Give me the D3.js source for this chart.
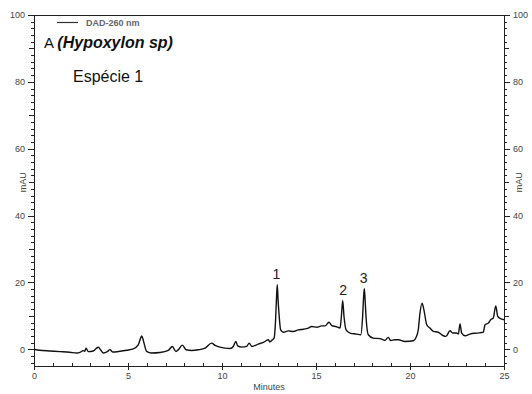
<!DOCTYPE html>
<meta charset="utf-8">
<title>DAD-260 nm chromatogram</title>
<style>

body {
  margin: 0;
  background: #fff;
}

.axis text {
  font: 9px Arial, "Liberation Sans", sans-serif;
  fill: #444;
}

.axis path,
.axis line {
  stroke: #222;
  shape-rendering: crispEdges;
}

.trace {
  fill: none;
  stroke: #111;
  stroke-width: 1.4px;
}

</style>
<svg width="532" height="394"></svg>
<script src="https://cdn.jsdelivr.net/npm/d3@7"></script>
<script>

// retention time (minutes) and absorbance (mAU)
var times = [
  0.0, 0.3, 0.85, 1.4, 1.9, 2.27, 2.45, 2.62, 2.7, 2.77, 2.89, 3.15, 3.3, 3.42, 3.56, 3.69, 3.9, 4.04, 4.18, 4.57,
  4.93, 5.28, 5.55, 5.68, 5.73, 5.8, 5.85, 5.99, 6.26, 6.7, 7.14, 7.36, 7.55, 7.68, 7.89, 8.09, 8.39, 8.74, 9.1, 9.45,
  9.63, 9.89, 10.16, 10.43, 10.6, 10.74, 10.83, 11.05, 11.31, 11.45, 11.58, 11.93, 12.2, 12.46, 12.55, 12.64, 12.77, 12.85, 12.9, 12.94,
  12.98, 13.03, 13.12, 13.26, 13.53, 13.79, 14.06, 14.32, 14.59, 14.77, 15.04, 15.3, 15.48, 15.69, 15.84, 16.06, 16.28, 16.35, 16.42, 16.49,
  16.6, 16.81, 17.16, 17.38, 17.48, 17.53, 17.57, 17.61, 17.66, 17.78, 18.05, 18.4, 18.67, 18.84, 18.97, 19.2, 19.38, 19.73, 20.18, 20.32,
  20.44, 20.53, 20.64, 20.74, 20.89, 21.06, 21.24, 21.5, 21.77, 21.91, 22.13, 22.27, 22.48, 22.57, 22.66, 22.75, 22.93, 23.19, 23.55, 23.9,
  23.99, 24.17, 24.29, 24.43, 24.56, 24.67, 24.88, 25.0
];

var mAU = [
  0.0, -0.3, -0.5, -0.7, -0.9, -1.1, -0.9, -0.4, -0.6, 0.3, -0.7, -0.5, 0.2, 0.6, -0.3, -1.1, -0.7, -0.1, -0.8, -0.6,
  -0.3, 0.1, 1.4, 3.5, 4.0, 3.0, 1.9, -0.6, -1.1, -0.95, -0.35, 0.85, -0.65, -0.1, 1.25, -0.15, -0.35, -0.15, 0.35, 1.85,
  1.15, 0.65, 0.35, 0.25, 0.85, 2.35, 1.0, 0.65, 0.85, 1.85, 0.85, 1.55, 2.05, 2.85, 2.2, 2.65, 3.35, 8.8, 15.5, 19.3,
  15.0, 10.8, 5.8, 5.1, 5.5, 5.3, 5.8, 6.0, 6.35, 6.8, 6.6, 7.0, 7.0, 8.1, 7.1, 6.8, 6.35, 9.8, 14.5, 9.8,
  5.8, 4.85, 4.55, 4.35, 9.8, 15.5, 18.1, 15.0, 9.8, 4.35, 3.35, 3.2, 2.65, 3.55, 2.65, 2.85, 2.85, 2.35, 2.55, 3.55,
  5.85, 10.8, 13.8, 11.8, 7.35, 6.35, 5.35, 5.1, 4.05, 3.85, 5.55, 4.85, 4.85, 4.55, 7.55, 4.85, 4.05, 4.55, 4.85, 5.1,
  7.35, 7.85, 8.85, 9.35, 13.0, 9.8, 9.05, 8.85
];

var peakNames = ["1", "2", "3"],
    peakTimes = [12.9, 16.45, 17.53],
    peakHeights = [19.3, 14.5, 18.1];

var xTicks = [0, 5, 10, 15, 20, 25],
    yTicks = [0, 20, 40, 60, 80, 100];

var svg = d3.select("svg"),
    width = +svg.attr("width"),
    height = +svg.attr("height"),
    margin = {top: 15, right: 28, bottom: 28, left: 34};

var x = d3.scaleLinear()
    .domain([0, 25])
    .range([margin.left, width - margin.right]);

var y = d3.scaleLinear()
    .domain([-5, 100])
    .range([height - margin.bottom, margin.top]);

var x0 = x.range()[0], x1 = x.range()[1],
    y0 = y.range()[0], y1 = y.range()[1];

// frame
svg.append("rect")
    .attr("x", x0)
    .attr("y", y1)
    .attr("width", x1 - x0)
    .attr("height", y0 - y1)
    .attr("fill", "none")
    .attr("stroke", "#222")
    .attr("shape-rendering", "crispEdges");

// minor ticks
var minorY = d3.range(-4, 101, 2);

svg.append("g")
    .attr("class", "axis")
    .attr("transform", "translate(" + x0 + ",0)")
    .call(d3.axisLeft(y).tickValues(minorY).tickSize(3).tickFormat(""))
    .call(function(g) { g.select(".domain").remove(); });

svg.append("g")
    .attr("class", "axis")
    .attr("transform", "translate(" + x1 + ",0)")
    .call(d3.axisRight(y).tickValues(minorY).tickSize(3).tickFormat(""))
    .call(function(g) { g.select(".domain").remove(); });

svg.append("g")
    .attr("class", "axis")
    .attr("transform", "translate(" + x0 + ",0)")
    .call(d3.axisLeft(y).tickValues(d3.range(10, 100, 20)).tickSize(5).tickFormat(""))
    .call(function(g) { g.select(".domain").remove(); });

svg.append("g")
    .attr("class", "axis")
    .attr("transform", "translate(" + x1 + ",0)")
    .call(d3.axisRight(y).tickValues(d3.range(10, 100, 20)).tickSize(5).tickFormat(""))
    .call(function(g) { g.select(".domain").remove(); });

svg.append("g")
    .attr("class", "axis")
    .attr("transform", "translate(0," + y0 + ")")
    .call(d3.axisTop(x).tickValues(d3.range(1, 25, 1)).tickSize(3).tickFormat(""))
    .call(function(g) { g.select(".domain").remove(); });

// labelled axes
svg.append("g")
    .attr("class", "axis")
    .attr("transform", "translate(" + x0 + ",0)")
    .call(d3.axisLeft(y).tickValues(yTicks).tickSize(6).tickPadding(3))
    .call(function(g) { g.select(".domain").remove(); });

svg.append("g")
    .attr("class", "axis")
    .attr("transform", "translate(" + x1 + ",0)")
    .call(d3.axisRight(y).tickValues(yTicks).tickSize(6).tickPadding(3))
    .call(function(g) { g.select(".domain").remove(); });

svg.append("g")
    .attr("class", "axis")
    .attr("transform", "translate(0," + y0 + ")")
    .call(d3.axisBottom(x).tickValues(xTicks).tickSize(4).tickPadding(3))
    .call(function(g) { g.select(".domain").remove(); });

svg.append("text")
    .attr("transform", "translate(" + 23 + "," + (y(50)) + ")rotate(-90)")
    .attr("text-anchor", "middle")
    .attr("dy", "0.35em")
    .style("font", "9px Arial, sans-serif")
    .style("fill", "#444")
    .text("mAU");

svg.append("text")
    .attr("transform", "translate(" + (x1 + 15) + "," + (y(50)) + ")rotate(-90)")
    .attr("text-anchor", "middle")
    .attr("dy", "0.35em")
    .style("font", "9px Arial, sans-serif")
    .style("fill", "#444")
    .text("mAU");

svg.append("text")
    .attr("x", (x0 + x1) / 2)
    .attr("y", height - 4)
    .attr("text-anchor", "middle")
    .style("font", "9px Arial, sans-serif")
    .style("fill", "#444")
    .text("Minutes");

// trace
var line = d3.line()
    .x(function(d, i) { return x(times[i]); })
    .y(function(d) { return y(d); })
    .curve(d3.curveMonotoneX);

svg.append("path")
    .datum(mAU)
    .attr("class", "trace")
    .attr("d", line);

// peak numbers
svg.selectAll(".peak")
    .data(peakNames)
  .enter().append("text")
    .attr("class", "peak")
    .attr("x", function(d, i) { return x(peakTimes[i]); })
    .attr("y", function(d, i) { return y(peakHeights[i]) - 6; })
    .attr("text-anchor", "middle")
    .style("font", "14px Arial, sans-serif")
    .style("fill", "#222")
    .text(function(d) { return d; });

// legend
svg.append("line")
    .attr("x1", 57)
    .attr("x2", 78)
    .attr("y1", 22.5)
    .attr("y2", 22.5)
    .attr("stroke", "#333")
    .attr("stroke-width", 1.2);

svg.append("text")
    .attr("x", 86)
    .attr("y", 25.5)
    .style("font", "bold 9px Arial, sans-serif")
    .style("fill", "#666")
    .text("DAD-260 nm");

// titles
var title = svg.append("text")
    .attr("x", 44)
    .attr("y", 48)
    .style("font", "15px Arial, sans-serif")
    .style("fill", "#111");

title.append("tspan").text("A ");
title.append("tspan")
    .style("font-size", "16px")
    .style("font-weight", "bold")
    .style("font-style", "italic")
    .text("(Hypoxylon sp)");

svg.append("text")
    .attr("x", 73)
    .attr("y", 82)
    .style("font", "16px Arial, sans-serif")
    .style("fill", "#111")
    .text("Espécie 1");

</script>
